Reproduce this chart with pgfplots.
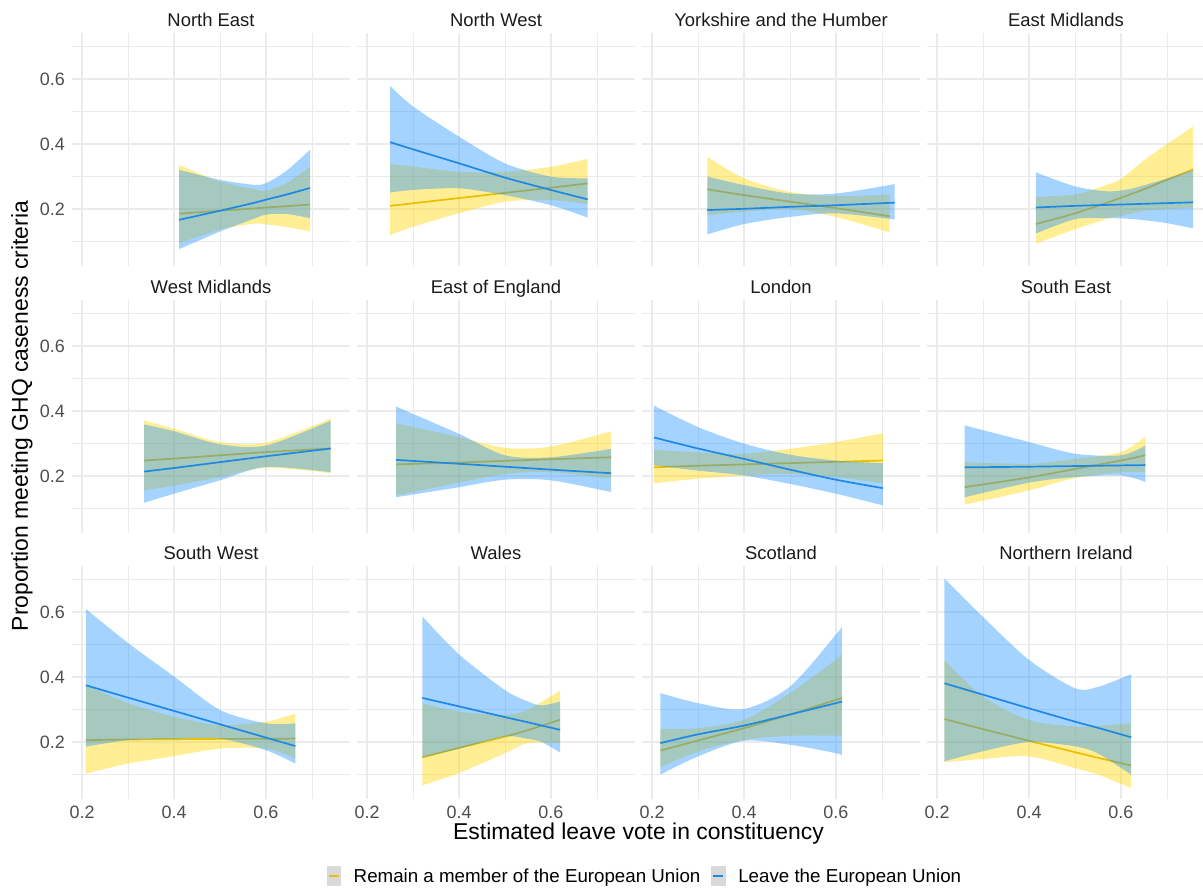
\documentclass[border=0pt]{standalone}
\usepackage{pgfplots}
\pgfplotsset{compat=1.18}
\usepackage{pgfplotstable}
\usepgfplotslibrary{fillbetween}
\usepackage{fontspec}
\setmainfont{Liberation Sans}

\definecolor{remline}{HTML}{EBBF00}
\definecolor{remfill}{HTML}{FFD700}
\definecolor{leaveline}{HTML}{1E88E5}
\definecolor{leavefill}{HTML}{1E90FF}
\definecolor{gridc}{HTML}{EBEBEB}
\definecolor{tickc}{HTML}{4D4D4D}
\definecolor{stripc}{HTML}{1A1A1A}
\definecolor{keyfill}{HTML}{D9D9D9}

% ---------------- data: x, lower CI, fit, upper CI ----------------
\pgfplotstableread{
x lo fit hi
0.411 0.095 0.186 0.336
0.5 0.137 0.195 0.285
0.573 0.155 0.202 0.262
0.6 0.153 0.205 0.257
0.645 0.145 0.209 0.280
0.696 0.131 0.214 0.331
}\NER
\pgfplotstableread{
x lo fit hi
0.411 0.077 0.167 0.321
0.5 0.131 0.195 0.290
0.573 0.170 0.219 0.275
0.6 0.183 0.229 0.280
0.645 0.185 0.245 0.318
0.696 0.172 0.265 0.383
}\NEL
\pgfplotstableread{
x lo fit hi
0.25 0.120 0.210 0.339
0.3 0.146 0.218 0.331
0.4 0.187 0.234 0.315
0.5 0.223 0.250 0.315
0.6 0.228 0.266 0.330
0.68 0.215 0.279 0.355
}\NWR
\pgfplotstableread{
x lo fit hi
0.25 0.251 0.406 0.579
0.3 0.259 0.384 0.516
0.4 0.264 0.341 0.423
0.5 0.243 0.297 0.341
0.6 0.212 0.259 0.300
0.68 0.174 0.230 0.295
}\NWL
\pgfplotstableread{
x lo fit hi
0.32 0.181 0.261 0.361
0.4 0.192 0.243 0.295
0.5 0.200 0.223 0.253
0.6 0.176 0.203 0.240
0.717 0.128 0.178 0.245
}\YHR
\pgfplotstableread{
x lo fit hi
0.32 0.122 0.197 0.300
0.4 0.154 0.201 0.274
0.5 0.176 0.207 0.248
0.6 0.187 0.212 0.248
0.728 0.168 0.220 0.277
}\YHL
\pgfplotstableread{
x lo fit hi
0.415 0.094 0.154 0.238
0.5 0.138 0.187 0.245
0.57 0.170 0.220 0.275
0.6 0.179 0.235 0.293
0.65 0.195 0.261 0.350
0.7 0.200 0.290 0.400
0.757 0.205 0.322 0.454
}\EMR
\pgfplotstableread{
x lo fit hi
0.415 0.125 0.205 0.313
0.5 0.169 0.210 0.270
0.57 0.172 0.213 0.255
0.62 0.170 0.215 0.262
0.69 0.159 0.218 0.290
0.757 0.141 0.221 0.320
}\EML
\pgfplotstableread{
x lo fit hi
0.335 0.156 0.248 0.371
0.4 0.171 0.254 0.346
0.5 0.197 0.264 0.305
0.6 0.226 0.274 0.303
0.741 0.209 0.285 0.377
}\WMR
\pgfplotstableread{
x lo fit hi
0.335 0.118 0.214 0.359
0.4 0.146 0.225 0.338
0.5 0.187 0.243 0.298
0.6 0.228 0.261 0.294
0.741 0.212 0.285 0.371
}\WML
\pgfplotstableread{
x lo fit hi
0.263 0.140 0.236 0.363
0.4 0.180 0.242 0.320
0.5 0.207 0.247 0.287
0.6 0.212 0.252 0.291
0.731 0.192 0.258 0.338
}\EER
\pgfplotstableread{
x lo fit hi
0.263 0.135 0.250 0.414
0.4 0.166 0.238 0.330
0.5 0.189 0.229 0.264
0.6 0.187 0.220 0.258
0.731 0.151 0.209 0.284
}\EEL
\pgfplotstableread{
x lo fit hi
0.204 0.178 0.227 0.281
0.3 0.192 0.232 0.273
0.4 0.202 0.236 0.269
0.5 0.207 0.240 0.284
0.6 0.197 0.244 0.305
0.702 0.178 0.248 0.332
}\LOR
\pgfplotstableread{
x lo fit hi
0.204 0.233 0.319 0.417
0.3 0.217 0.285 0.351
0.4 0.202 0.253 0.300
0.5 0.176 0.220 0.266
0.6 0.146 0.189 0.248
0.702 0.110 0.163 0.240
}\LOL
\pgfplotstableread{
x lo fit hi
0.26 0.112 0.166 0.243
0.4 0.156 0.196 0.238
0.5 0.194 0.222 0.253
0.6 0.212 0.248 0.274
0.653 0.212 0.264 0.322
}\SER
\pgfplotstableread{
x lo fit hi
0.26 0.135 0.227 0.356
0.4 0.180 0.229 0.305
0.5 0.197 0.231 0.269
0.6 0.202 0.233 0.264
0.653 0.182 0.234 0.294
}\SEL
\pgfplotstableread{
x lo fit hi
0.208 0.103 0.206 0.375
0.3 0.134 0.208 0.320
0.4 0.157 0.209 0.278
0.5 0.180 0.210 0.252
0.6 0.180 0.210 0.263
0.664 0.150 0.211 0.288
}\SWR
\pgfplotstableread{
x lo fit hi
0.208 0.186 0.375 0.610
0.3 0.206 0.337 0.505
0.4 0.210 0.296 0.402
0.5 0.211 0.255 0.299
0.6 0.175 0.214 0.258
0.664 0.134 0.188 0.258
}\SWL
\pgfplotstableread{
x lo fit hi
0.32 0.067 0.153 0.320
0.4 0.105 0.182 0.294
0.5 0.166 0.217 0.284
0.55 0.197 0.237 0.300
0.62 0.197 0.269 0.359
}\WAR
\pgfplotstableread{
x lo fit hi
0.32 0.153 0.336 0.587
0.4 0.180 0.310 0.470
0.5 0.217 0.277 0.360
0.55 0.210 0.261 0.325
0.58 0.200 0.251 0.313
0.62 0.168 0.238 0.325
}\WAL
\pgfplotstableread{
x lo fit hi
0.218 0.123 0.174 0.241
0.3 0.171 0.205 0.243
0.4 0.207 0.243 0.269
0.5 0.2195 0.285 0.351
0.6 0.220 0.330 0.454
0.613 0.220 0.336 0.474
}\SCR
\pgfplotstableread{
x lo fit hi
0.218 0.100 0.197 0.351
0.3 0.156 0.224 0.320
0.4 0.204 0.251 0.302
0.5 0.192 0.285 0.371
0.6 0.166 0.320 0.531
0.613 0.158 0.325 0.556
}\SCL
\pgfplotstableread{
x lo fit hi
0.216 0.138 0.271 0.453
0.3 0.148 0.240 0.340
0.4 0.156 0.204 0.268
0.5 0.120 0.169 0.248
0.55 0.100 0.152 0.250
0.622 0.059 0.128 0.258
}\NIR
\pgfplotstableread{
x lo fit hi
0.216 0.141 0.381 0.703
0.3 0.172 0.346 0.585
0.4 0.200 0.304 0.453
0.5 0.187 0.263 0.366
0.55 0.165 0.244 0.370
0.622 0.100 0.215 0.409
}\NIL

\pgfplotsset{
  layers/ribbons/.define layer set={axis background,axis grid,axis ticks,axis lines,axis tick labels,pre main,rfill,rline,lfill,main,axis descriptions,axis foreground}{
    grid style={/pgfplots/on layer=axis grid},
    tick style={/pgfplots/on layer=axis ticks},
    axis line style={/pgfplots/on layer=axis lines},
    label style={/pgfplots/on layer=axis descriptions},
    legend style={/pgfplots/on layer=axis descriptions},
    title style={/pgfplots/on layer=axis descriptions},
    ticklabel style={/pgfplots/on layer=axis tick labels},
    axis background@ style={/pgfplots/on layer=axis background},
  },
  noxl/.style={xticklabels={}},
  noyl/.style={yticklabels={}},
  panel/.style={
    set layers=ribbons,
    scale only axis, width=278bp, height=233bp, anchor=south west,
    xmin=0.178, xmax=0.783, ymin=0.025, ymax=0.742,
    axis line style={draw=none},
    major tick length=0pt, minor tick length=0pt,
    xtick={0.2,0.4,0.6}, ytick={0.2,0.4,0.6},
    minor xtick={0.3,0.5,0.7}, minor ytick={0.1,0.3,0.5,0.7},
    grid=both,
    major grid style={color=gridc, line width=1.3bp},
    minor grid style={color=gridc, line width=0.7bp},
    /pgf/number format/assume math mode=true,
    tick label style={font=\fontsize{18}{18}\selectfont, text=tickc},
    xticklabel style={anchor=north, inner sep=0pt, yshift=-6.5bp},
    yticklabel style={anchor=east, inner sep=0pt, xshift=-7bp},
    title style={font=\fontsize{18.5}{18.5}\selectfont, text=stripc, anchor=base, at={(0.5,1)}, yshift=0.3bp},
  },
}

\newcommand{\panel}[7]{%
\begin{axis}[panel, at={(#1,#2)}, title={#3}, #6]
\addplot[name path=rlo, draw=none, smooth, forget plot] table[x=x,y=lo]{#4};
\addplot[name path=rhi, draw=none, smooth, forget plot] table[x=x,y=hi]{#4};
\addplot[fill=remfill, fill opacity=0.42, draw=none, forget plot] fill between[of=rlo and rhi, on layer=rfill];
\addplot[color=remline, line width=1.7bp, smooth, forget plot, on layer=rline] table[x=x,y=fit]{#4};
\addplot[name path=llo, draw=none, smooth, forget plot] table[x=x,y=lo]{#5};
\addplot[name path=lhi, draw=none, smooth, forget plot] table[x=x,y=hi]{#5};
\addplot[fill=leavefill, fill opacity=0.4, draw=none, forget plot] fill between[of=llo and lhi, on layer=lfill];
\addplot[color=leaveline, line width=1.7bp, smooth, forget plot] table[x=x,y=fit]{#5};
#7
\end{axis}}

\begin{document}
\begin{tikzpicture}
% row 1
\panel{72bp}{625bp}{North East}{\NER}{\NEL}{noxl}{}
\panel{357bp}{625bp}{North West}{\NWR}{\NWL}{noxl,noyl}{}
\panel{642bp}{625bp}{Yorkshire and the Humber}{\YHR}{\YHL}{noxl,noyl}{}
\panel{927bp}{625bp}{East Midlands}{\EMR}{\EML}{noxl,noyl}{}
% row 2
\panel{72bp}{358bp}{West Midlands}{\WMR}{\WML}{noxl}{}
\panel{357bp}{358bp}{East of England}{\EER}{\EEL}{noxl,noyl}{}
\panel{642bp}{358bp}{London}{\LOR}{\LOL}{noxl,noyl}{}
\panel{927bp}{358bp}{South East}{\SER}{\SEL}{noxl,noyl}{}
% row 3
\panel{72bp}{92bp}{South West}{\SWR}{\SWL}{}{}
\panel{357bp}{92bp}{Wales}{\WAR}{\WAL}{noyl,
  legend columns=2,
  legend style={draw=none, fill=none, at={(1.0324,-0.3305)}, anchor=center,
    font=\fontsize{18.8}{18.8}\selectfont,
    nodes={inner sep=0pt},
    /tikz/every odd column/.style={column sep=13bp},
    /tikz/every even column/.style={column sep=11bp}}}{%
  \addlegendimage{legend image code/.code={\fill[keyfill] (0bp,-9.5bp) rectangle (13.5bp,9.5bp); \draw[remline, line width=1.7bp] (1.8bp,0bp) -- (11.7bp,0bp);}}
  \addlegendentry{Remain a member of the European Union}
  \addlegendimage{legend image code/.code={\fill[keyfill] (0bp,-9.5bp) rectangle (13.5bp,9.5bp); \draw[leaveline, line width=1.7bp] (1.8bp,0bp) -- (11.7bp,0bp);}}
  \addlegendentry{Leave the European Union}}
\panel{642bp}{92bp}{Scotland}{\SCR}{\SCL}{noyl}{}
\panel{927bp}{92bp}{Northern Ireland}{\NIR}{\NIL}{noyl}{}
% axis titles
\node[font=\fontsize{23}{23}\selectfont] at (638.5bp,57bp) {Estimated leave vote in constituency};
\node[font=\fontsize{23}{23}\selectfont, rotate=90] at (22bp,475bp) {Proportion meeting GHQ caseness criteria};
\pgfresetboundingbox
\useasboundingbox (0,0) rectangle (1203bp,891bp);
\end{tikzpicture}
\end{document}
